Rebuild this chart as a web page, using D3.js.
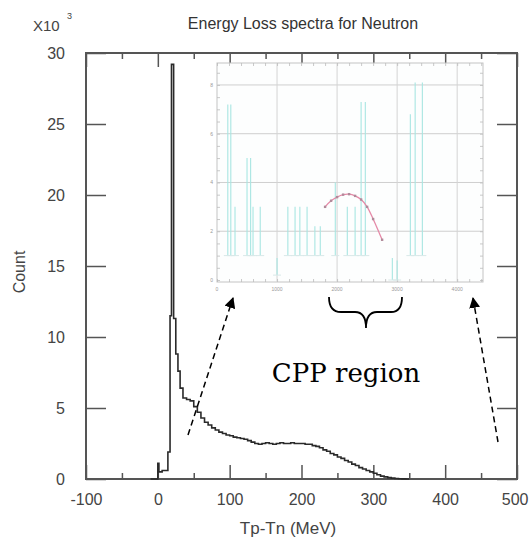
<!DOCTYPE html>
<html>
<head>
<meta charset="utf-8">
<script src="https://cdn.jsdelivr.net/npm/d3@7"></script>
<style>
  body { margin: 0; background: #fff; }
  text { font-family: "Liberation Sans", Arial, sans-serif; }
</style>
</head>
<body>
<div id="chart"></div>
<script>
// données (comptes en milliers)
const xTicks = [-100, 0, 100, 200, 300, 400, 500];
const xMinorTicks = [-50, 50, 150, 250, 350, 450];
const yTicks = [0, 5, 10, 15, 20, 25, 30];

const binEdges = [-10, 0, 1.5, 6, 14, 17, 19, 22, 25, 28, 31, 35, 40, 45, 50, 55, 60, 65, 70, 75,
  80, 85, 90, 95, 100, 105, 110, 115, 120, 125, 130, 135, 140, 145, 150, 155, 160, 165, 170, 175,
  180, 185, 190, 195, 200, 205, 210, 215, 220, 225, 230, 235, 240, 245, 250, 255, 260, 265, 270, 275,
  280, 285, 290, 295, 300, 305, 310, 315, 320, 325, 330, 335, 340, 345, 350];
const counts = [0, 1.1, 0.5, 0.6, 1.9, 11.5, 29.2, 11.3, 8.8, 7.6, 6.4, 5.7, 5.6, 5.5, 5.1, 4.7, 4.3, 4.0, 3.8, 3.6,
  3.45, 3.3, 3.2, 3.1, 3.05, 2.95, 2.9, 2.85, 2.8, 2.7, 2.6, 2.5, 2.45, 2.5, 2.55, 2.5, 2.45, 2.5, 2.55, 2.5,
  2.5, 2.55, 2.5, 2.5, 2.5, 2.45, 2.45, 2.35, 2.3, 2.2, 2.05, 1.95, 1.8, 1.7, 1.55, 1.45, 1.3, 1.2, 1.05, 0.95,
  0.8, 0.7, 0.6, 0.5, 0.4, 0.3, 0.2, 0.15, 0.1, 0.06, 0.04, 0.02, 0.01, 0];

// petit graphique incrusté
const insetXTicks = [0, 1000, 2000, 3000, 4000];
const insetYTicks = [0, 2, 4, 6, 8];
const spikeX = [180, 230, 300, 500, 560, 600, 720, 1000, 1180, 1300, 1380, 1500, 1630, 1720, 1970, 2170, 2300, 2400, 2470, 2920, 3000, 3220, 3300, 3420];
const spikeTop = [7.2, 7.2, 3, 5, 5, 3, 3, 0.9, 3, 3, 3, 3, 2.2, 2.2, 4, 3, 3, 7.3, 7.3, 0.9, 0.8, 6.8, 8.1, 8.1];
const spikeBase = [1, 1, 1, 1, 1, 1, 1, 0.2, 1, 1, 1, 1, 1, 1, 1, 1, 1, 1, 1, 0, 0, 1, 1, 1];
const arcX = [1800, 1900, 2000, 2100, 2200, 2300, 2400, 2500, 2600, 2750];
const arcY = [3.0, 3.25, 3.4, 3.5, 3.52, 3.45, 3.3, 3.0, 2.5, 1.65];

const svg = d3.select("#chart")
  .append("svg")
  .attr("width", 529)
  .attr("height", 538);

const x = d3.scaleLinear().domain([-100, 500]).range([86, 517]);
const y = d3.scaleLinear().domain([0, 30]).range([479, 53]);

// axes (ticks vers l'intérieur)
const textColor = "#444";
const frameColor = "#555";

svg.append("g")
  .attr("class", "xaxis")
  .attr("transform", "translate(0,479)")
  .call(d3.axisBottom(x).tickValues(xTicks).tickSize(-14).tickPadding(15).tickFormat(d => String(d)))
  .call(g => g.select(".domain").remove());
svg.append("g")
  .attr("transform", "translate(0,479)")
  .call(d3.axisBottom(x).tickValues(xMinorTicks).tickSize(-6).tickFormat(""))
  .call(g => g.select(".domain").remove());
svg.append("g")
  .attr("transform", "translate(0,53)")
  .call(d3.axisTop(x).tickValues(xTicks).tickSize(-14).tickFormat(""))
  .call(g => g.select(".domain").remove());
svg.append("g")
  .attr("transform", "translate(0,53)")
  .call(d3.axisTop(x).tickValues(xMinorTicks).tickSize(-6).tickFormat(""))
  .call(g => g.select(".domain").remove());
svg.append("g")
  .attr("transform", "translate(86,0)")
  .call(d3.axisLeft(y).tickValues(yTicks).tickSize(-20).tickPadding(21))
  .call(g => g.select(".domain").remove());
svg.append("g")
  .attr("transform", "translate(517,0)")
  .call(d3.axisRight(y).tickValues(yTicks).tickSize(-20).tickFormat(""))
  .call(g => g.select(".domain").remove());

svg.selectAll(".tick line").attr("stroke", frameColor).attr("stroke-width", 1.5);
svg.selectAll(".tick text")
  .attr("fill", textColor)
  .style("font-family", "Liberation Sans, Arial, sans-serif")
  .style("font-size", "16px");

// le "500" colle au bord droit de l'image
svg.selectAll(".xaxis .tick text")
  .filter(d => d === 500)
  .attr("text-anchor", "end")
  .attr("x", 11);

// cadre
svg.append("rect")
  .attr("x", 86).attr("y", 53)
  .attr("width", 517 - 86).attr("height", 479 - 53)
  .attr("fill", "none")
  .attr("stroke", frameColor)
  .attr("stroke-width", 2);

// incrustation
const ix = d3.scaleLinear().domain([0, 4430]).range([217, 483]);
const iy = d3.scaleLinear().domain([0, 8.9]).range([280, 63]);
const inset = svg.append("g");

inset.append("rect")
  .attr("x", 217).attr("y", 63)
  .attr("width", 483 - 217).attr("height", 282 - 63)
  .attr("fill", "#fdfefe")
  .attr("stroke", "#c4c4c4")
  .attr("stroke-width", 1);

inset.selectAll(".hgrid")
  .data(insetYTicks.slice(1))
  .enter().append("line")
  .attr("x1", 217).attr("x2", 483)
  .attr("y1", d => iy(d)).attr("y2", d => iy(d))
  .attr("stroke", "#cfcfcf");
inset.selectAll(".vgrid")
  .data(insetXTicks.slice(1))
  .enter().append("line")
  .attr("x1", d => ix(d)).attr("x2", d => ix(d))
  .attr("y1", 63).attr("y2", 282)
  .attr("stroke", "#d4d4d4");

// petites graduations du cadre incrusté
inset.append("g")
  .attr("transform", "translate(0,282)")
  .call(d3.axisBottom(ix).ticks(22).tickSize(-3).tickFormat(""))
  .call(g => g.select(".domain").remove());
inset.append("g")
  .attr("transform", "translate(0,63)")
  .call(d3.axisTop(ix).ticks(22).tickSize(-3).tickFormat(""))
  .call(g => g.select(".domain").remove());
inset.append("g")
  .attr("transform", "translate(217,0)")
  .call(d3.axisLeft(iy).ticks(18).tickSize(-3).tickFormat(""))
  .call(g => g.select(".domain").remove());
inset.append("g")
  .attr("transform", "translate(483,0)")
  .call(d3.axisRight(iy).ticks(18).tickSize(-3).tickFormat(""))
  .call(g => g.select(".domain").remove());
inset.selectAll(".tick line").attr("stroke", "#bbb").attr("stroke-width", 0.8);

inset.selectAll(".ixlab")
  .data(insetXTicks)
  .enter().append("text")
  .attr("x", d => ix(d)).attr("y", 291)
  .attr("text-anchor", "middle")
  .attr("fill", "#999")
  .style("font-size", "5px")
  .text(d => d);
inset.selectAll(".iylab")
  .data(insetYTicks)
  .enter().append("text")
  .attr("x", 213).attr("y", d => iy(d) + 2)
  .attr("text-anchor", "end")
  .attr("fill", "#999")
  .style("font-size", "5px")
  .text(d => d);

// pics cyan
inset.selectAll(".spike")
  .data(spikeX)
  .enter().append("line")
  .attr("x1", d => ix(d)).attr("x2", d => ix(d))
  .attr("y1", (d, i) => iy(spikeBase[i]))
  .attr("y2", (d, i) => iy(spikeTop[i]))
  .attr("stroke", "#a8e6e2")
  .attr("stroke-width", 1.1);
inset.selectAll(".spikeBase")
  .data(spikeX)
  .enter().append("line")
  .attr("x1", d => ix(d) - 4).attr("x2", d => ix(d) + 4)
  .attr("y1", (d, i) => iy(spikeBase[i]))
  .attr("y2", (d, i) => iy(spikeBase[i]))
  .attr("stroke", "#d8e8e8")
  .attr("stroke-width", 1);

// arc rouge
const arcPts = arcX.map((d, i) => [d, arcY[i]]);
inset.append("path")
  .attr("d", d3.line().x(d => ix(d[0])).y(d => iy(d[1])).curve(d3.curveCatmullRom)(arcPts))
  .attr("fill", "none")
  .attr("stroke", "#e58aa8")
  .attr("stroke-width", 1.3);
inset.selectAll(".arcpt")
  .data(arcPts)
  .enter().append("rect")
  .attr("x", d => ix(d[0]) - 1.2).attr("y", d => iy(d[1]) - 1.2)
  .attr("width", 2.4).attr("height", 2.4)
  .attr("fill", "#b08a9a");

// histogramme
const steps = counts.map((c, i) => [binEdges[i], c]);
steps.push([binEdges[binEdges.length - 1], counts[counts.length - 1]]);
svg.append("path")
  .attr("d", d3.line().x(d => x(d[0])).y(d => y(d[1])).curve(d3.curveStepAfter)(steps))
  .attr("fill", "none")
  .attr("stroke", "#2a2a2a")
  .attr("stroke-width", 1.6);

// textes
svg.append("text")
  .attr("x", 303).attr("y", 29)
  .attr("text-anchor", "middle")
  .attr("fill", "#333")
  .style("font-size", "16px")
  .text("Energy Loss spectra for Neutron");
svg.append("text")
  .attr("x", 33).attr("y", 31)
  .attr("fill", textColor)
  .style("font-size", "15px")
  .text("X10");
svg.append("text")
  .attr("x", 67).attr("y", 19)
  .attr("fill", textColor)
  .style("font-size", "9px")
  .text("3");
svg.append("text")
  .attr("transform", "translate(25,272) rotate(-90)")
  .attr("text-anchor", "middle")
  .attr("fill", textColor)
  .style("font-size", "16px")
  .text("Count");
svg.append("text")
  .attr("x", 288).attr("y", 534)
  .attr("text-anchor", "middle")
  .attr("fill", textColor)
  .style("font-size", "17px")
  .text("Tp-Tn (MeV)");

// flèches en pointillés
svg.append("defs").append("marker")
  .attr("id", "head")
  .attr("viewBox", "0 0 10 10")
  .attr("refX", 9).attr("refY", 5)
  .attr("markerWidth", 11).attr("markerHeight", 11)
  .attr("markerUnits", "userSpaceOnUse")
  .attr("orient", "auto")
  .append("path")
  .attr("d", "M0,0 L10,5 L0,10 Z")
  .attr("fill", "#000");

const arrows = [[188, 435, 233, 298], [498, 442, 473, 298]];
svg.selectAll(".arrow")
  .data(arrows)
  .enter().append("line")
  .attr("x1", d => d[0]).attr("y1", d => d[1])
  .attr("x2", d => d[2]).attr("y2", d => d[3])
  .attr("stroke", "#000")
  .attr("stroke-width", 1.5)
  .attr("stroke-dasharray", "6,4")
  .attr("marker-end", "url(#head)");

// accolade
svg.append("path")
  .attr("d", "M329,297 Q329,312 341,312 L355,312 Q366,312 366,328 Q366,312 377,312 L391,312 Q402,312 402,297")
  .attr("fill", "none")
  .attr("stroke", "#000")
  .attr("stroke-width", 1.8);

svg.append("text")
  .attr("x", 346).attr("y", 382)
  .attr("text-anchor", "middle")
  .attr("fill", "#000")
  .style("font-family", "DejaVu Serif, serif")
  .style("font-size", "26px")
  .text("CPP region");
</script>
</body>
</html>
